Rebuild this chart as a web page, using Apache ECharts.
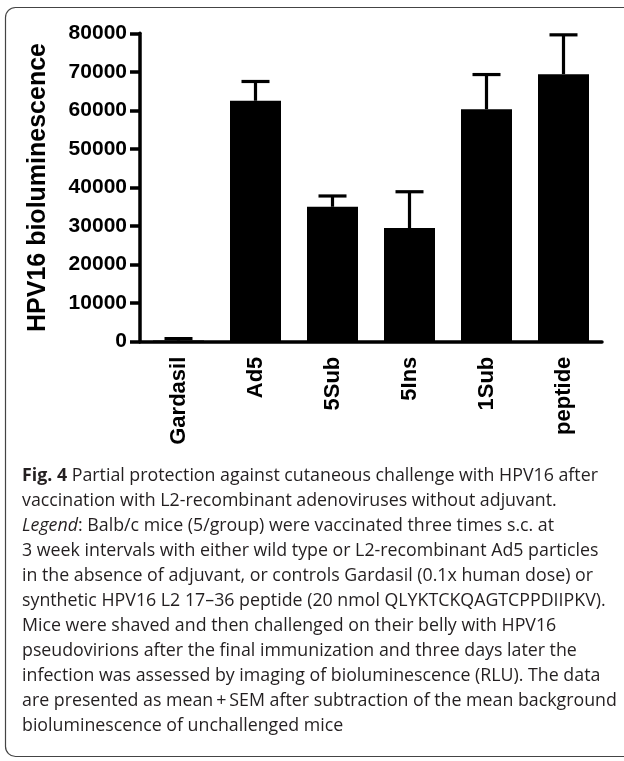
<!DOCTYPE html>
<html>
<head>
<meta charset="utf-8">
<script src="https://cdn.jsdelivr.net/npm/echarts@6/dist/echarts.min.js"></script>
<style>
  html, body { margin: 0; padding: 0; background: #fff; }
  #chart { width: 624px; height: 761px; }
</style>
</head>
<body>
<div id="chart"></div>
<script>
  // groups on the x axis
  var groups = ['Gardasil', 'Ad5', '5Sub', '5Ins', '1Sub', 'peptide']
  // mean bioluminescence (RLU)
  var means = [300, 62500, 35000, 29500, 60300, 69400]
  // mean + SEM (top of the error bar)
  var errTops = [800, 67500, 37800, 38900, 69300, 79600]
  var yTicks = [0, 10000, 20000, 30000, 40000, 50000, 60000, 70000, 80000]

  var captionLines = [
    '{b|Fig. 4} Partial protection against cutaneous challenge with HPV16 after',
    'vaccination with L2-recombinant adenoviruses without adjuvant.',
    '{i|Legend}: Balb/c mice (5/group) were vaccinated three times s.c. at',
    '3 week intervals with either wild type or L2-recombinant Ad5 particles',
    'in the absence of adjuvant, or controls Gardasil (0.1x human dose) or',
    'synthetic HPV16 L2 17\u201336 peptide (20 nmol QLYKTCKQAGTCPPDIIPKV).',
    'Mice were shaved and then challenged on their belly with HPV16',
    'pseudovirions after the final immunization and three days later the',
    'infection was assessed by imaging of bioluminescence (RLU). The data',
    'are presented as mean\u2009+\u2009SEM after subtraction of the mean background',
    'bioluminescence of unchallenged mice'
  ]

  var chartFont = '"Liberation Sans", Arial, Helvetica, sans-serif'
  var capFont = '"Open Sans", "Noto Sans", sans-serif'
  var capSize = 17.8

  // frame round the figure and caption, one text element per line
  var graphics = [{
    type: 'rect',
    shape: { x: 5.5, y: 7.5, width: 700, height: 749, r: 10 },
    style: { fill: 'none', stroke: '#444', lineWidth: 1.2 },
    silent: true
  }]
  captionLines.forEach(function(line, i) {
    graphics.push({
      type: 'text',
      x: 22,
      y: 476 + i * 25,
      style: {
        text: line,
        fontSize: capSize,
        fontFamily: capFont,
        fill: '#231f20',
        verticalAlign: 'middle',
        rich: {
          b: { fontWeight: 'bold', fontSize: capSize, fontFamily: capFont, fill: '#231f20' },
          i: { fontStyle: 'italic', fontSize: capSize, fontFamily: capFont, fill: '#231f20' }
        }
      }
    })
  })

  var errData = groups.map(function(g, i) {
    return [i, means[i], errTops[i]]
  })

  var options = {
    animation: false,
    backgroundColor: '#fff',
    grid: {
      left: 140,
      right: 22,
      top: 33.3,
      bottom: 419.3,
      containLabel: false
    },
    xAxis: {
      type: 'category',
      data: groups,
      axisLine: { lineStyle: { color: '#000', width: 3.5 } },
      axisTick: { alignWithLabel: true, length: 10, lineStyle: { color: '#000', width: 3.5 } },
      axisLabel: {
        rotate: 90,
        margin: 15,
        color: '#000',
        fontSize: 22,
        fontWeight: 'bold',
        fontFamily: chartFont
      },
      splitLine: { show: false }
    },
    yAxis: {
      type: 'value',
      min: yTicks[0],
      max: yTicks[yTicks.length - 1],
      interval: yTicks[1] - yTicks[0],
      name: 'HPV16 bioluminescence',
      nameLocation: 'middle',
      nameRotate: 90,
      nameGap: 89,
      nameTextStyle: {
        color: '#000',
        fontSize: 25,
        fontWeight: 'bold',
        fontFamily: chartFont
      },
      axisLine: { show: true, lineStyle: { color: '#000', width: 3.5 } },
      axisTick: { show: true, length: 10, lineStyle: { color: '#000', width: 3.5 } },
      axisLabel: {
        margin: 13,
        color: '#000',
        fontSize: 21,
        fontWeight: 'bold',
        fontFamily: chartFont,
        formatter: function(v) { return String(v) }
      },
      splitLine: { show: false }
    },
    series: [
      {
        type: 'bar',
        data: means,
        barWidth: 51,
        itemStyle: { color: '#000' },
        z: 2
      },
      {
        type: 'custom',
        data: errData,
        z: 3,
        renderItem: function(params, api) {
          var x = api.value(0)
          var base = api.coord([x, api.value(1)])
          var top = api.coord([x, api.value(2)])
          var half = 14
          return {
            type: 'group',
            children: [
              {
                type: 'line',
                shape: { x1: base[0], y1: base[1], x2: top[0], y2: top[1] },
                style: { stroke: '#000', lineWidth: 3.2 }
              },
              {
                type: 'line',
                shape: { x1: top[0] - half, y1: top[1], x2: top[0] + half, y2: top[1] },
                style: { stroke: '#000', lineWidth: 3.2 }
              }
            ]
          }
        }
      }
    ],
    graphic: graphics
  }

  var chart = echarts.init(document.getElementById('chart'), null, { renderer: 'canvas' })
  chart.setOption(options)
</script>
</body>
</html>
